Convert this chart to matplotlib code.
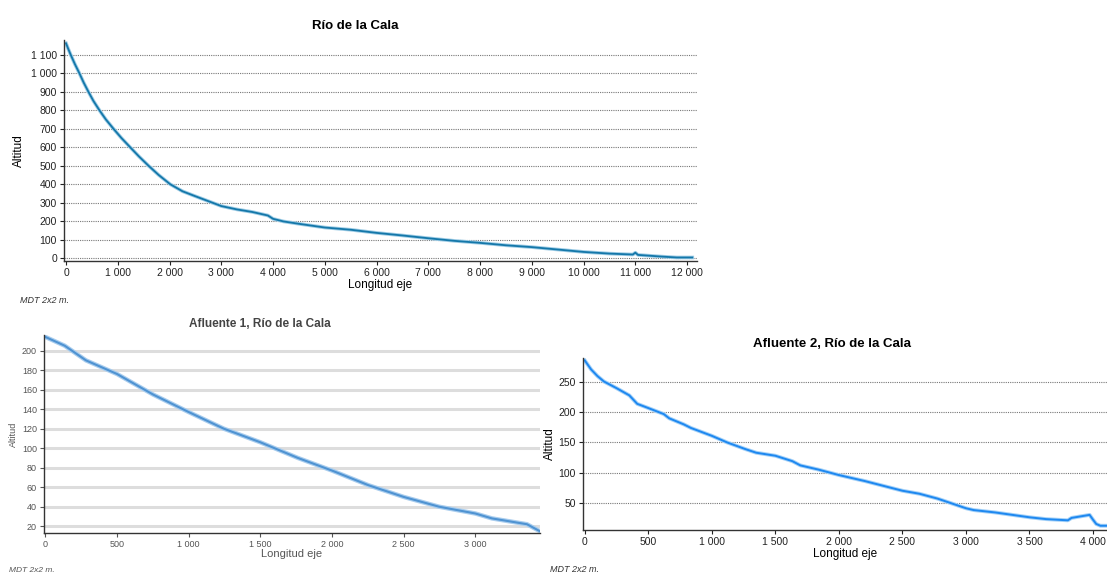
import numpy as np
import matplotlib
matplotlib.use('Agg')
import matplotlib.pyplot as plt
from matplotlib.ticker import FuncFormatter, MultipleLocator

plt.rcParams['font.family'] = ['Liberation Sans', 'DejaVu Sans']

# Rio de la Cala (main profile)
cala_x = [0, 45, 90, 170, 258, 340, 432, 530, 645, 770, 916, 1070, 1239, 1410, 1594,
          1790, 2013, 2250, 2500, 3000, 3300, 3600, 3900,
          4000, 4200, 4500, 4800, 5000, 5500, 6000, 6500, 7000, 7500, 8000, 8500,
          9000, 9500, 10000, 10500, 10950, 11000, 11050, 11500, 11800, 12100]
cala_y = [1162, 1130, 1100, 1050, 1000, 950, 900, 850, 800, 750, 700, 650, 600, 550, 500,
          450, 400, 362, 335, 282, 264, 250, 231,
          213, 199, 186, 174, 166, 154, 137, 123, 108, 94, 83, 70,
          60, 47, 34, 25, 20, 30, 18, 9, 4, 4]

# Afluente 1
af1_x = [0, 135, 283, 500, 751, 1000, 1244, 1500, 1761, 2000, 2254, 2500, 2746,
         3000, 3115, 3360, 3448]
af1_y = [214, 205, 190, 176, 155, 137, 120, 106, 90, 77, 62, 50, 40,
         33, 28, 22, 15]

# Afluente 2
af2_x = [0, 50, 100, 151, 250, 351, 413, 500, 622, 665, 779, 836, 1000, 1121, 1264, 1349,
         1500, 1634, 1697, 1840, 2000, 2205, 2500, 2634, 2776, 3000, 3060, 3231,
         3500, 3631, 3802, 3831, 3916, 3973, 4000, 4025, 4058, 4110]
af2_y = [286, 271, 260, 251, 240, 228, 214, 207, 197, 190, 180, 174, 161, 150, 139, 133,
         128, 119, 112, 105, 96, 86, 70, 65, 57, 41, 38, 34,
         26, 23, 21, 25, 28, 30, 22, 15, 12, 12]


def thousands(v, pos):
    return f'{int(round(v)):,}'.replace(',', ' ')


def style(ax, grid_color, grid_ls, grid_lw, tick_color, fs):
    for s in ['top', 'right']:
        ax.spines[s].set_visible(False)
    for s in ['left', 'bottom']:
        ax.spines[s].set_color('#333333')
        ax.spines[s].set_linewidth(1.0)
    ax.yaxis.grid(True, color=grid_color, linestyle=grid_ls, linewidth=grid_lw)
    ax.set_axisbelow(True)
    ax.xaxis.set_major_formatter(FuncFormatter(thousands))
    ax.yaxis.set_major_formatter(FuncFormatter(thousands))
    ax.tick_params(labelsize=fs, colors=tick_color, length=3, width=0.8, pad=2)


fig = plt.figure(figsize=(11.07, 5.74), dpi=100)

# top chart
ax1 = fig.add_axes([0.0578, 0.5453, 0.5718, 0.3850])
ax1.plot(cala_x, cala_y, color='#9fcde6', lw=2.6)
ax1.plot(cala_x, cala_y, color='#1477a9', lw=1.3)
ax1.set_xlim(-40, 12190)
ax1.set_ylim(-15, 1180)
ax1.xaxis.set_major_locator(MultipleLocator(1000))
ax1.yaxis.set_major_locator(MultipleLocator(100))
style(ax1, '#777777', (0, (1, 1)), 0.8, '#222222', 7.5)
ax1.set_title('Río de la Cala', fontsize=9.5, fontweight='bold', pad=8, x=0.46)
ax1.set_xlabel('Longitud eje', fontsize=8.5, labelpad=1)
ax1.set_ylabel('Altitud', fontsize=8.5, labelpad=4)
fig.text(0.018, 0.472, 'MDT 2x2 m.', fontsize=6.5, style='italic', color='#333333')

# bottom left chart
ax2 = fig.add_axes([0.0397, 0.0714, 0.448, 0.345])
ax2.plot(af1_x, af1_y, color='#a9cdee', lw=3.2)
ax2.plot(af1_x, af1_y, color='#4f93d2', lw=1.5)
ax2.set_xlim(-10, 3450)
ax2.set_ylim(13, 216)
ax2.xaxis.set_major_locator(MultipleLocator(500))
ax2.yaxis.set_major_locator(MultipleLocator(20))
style(ax2, '#dddddd', '-', 2.2, '#555555', 6.5)
ax2.set_title('Afluente 1, Río de la Cala', fontsize=8.5, fontweight='bold',
              color='#444444', pad=6, x=0.435)
ax2.set_xlabel('Longitud eje', fontsize=8, color='#555555', labelpad=0)
ax2.set_ylabel('Altitud', fontsize=6.5, color='#555555', labelpad=3)
fig.text(0.008, 0.003, 'MDT 2x2 m.', fontsize=6, style='italic', color='#555555')

# bottom right chart
ax3 = fig.add_axes([0.5266, 0.0767, 0.4734, 0.2997])
ax3.plot(af2_x, af2_y, color='#a6d2f8', lw=2.8)
ax3.plot(af2_x, af2_y, color='#1e88f0', lw=1.4)
ax3.set_xlim(-14, 4110)
ax3.set_ylim(5, 290)
ax3.xaxis.set_major_locator(MultipleLocator(500))
ax3.set_yticks([50, 100, 150, 200, 250])
style(ax3, '#777777', (0, (1, 1)), 0.8, '#222222', 7.5)
ax3.set_title('Afluente 2, Río de la Cala', fontsize=9.5, fontweight='bold', pad=8, x=0.475)
ax3.set_xlabel('Longitud eje', fontsize=8.5, labelpad=1)
ax3.set_ylabel('Altitud', fontsize=8.5, labelpad=2)
fig.text(0.497, 0.003, 'MDT 2x2 m.', fontsize=6.5, style='italic', color='#333333')

fig.savefig('out.png', dpi=100)
